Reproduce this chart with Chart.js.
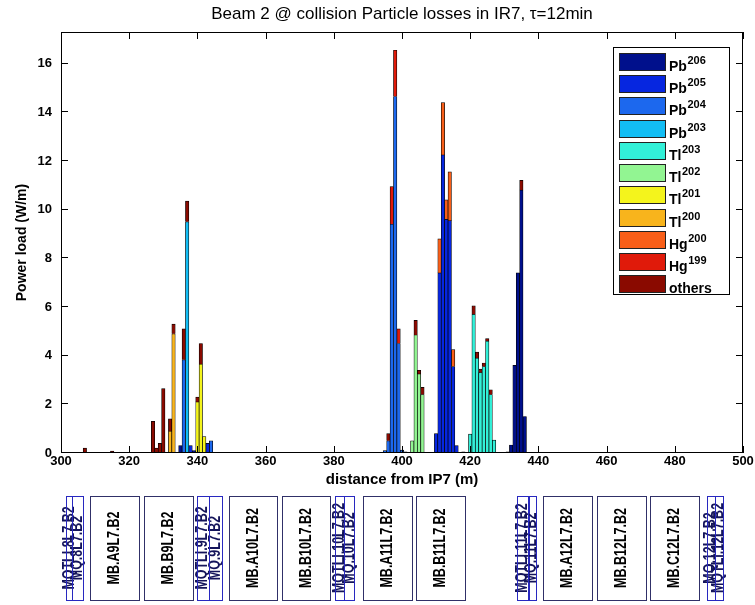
<!DOCTYPE html>
<html>
<head>
<meta charset="utf-8">
<title>Beam 2 @ collision Particle losses in IR7</title>
<script src="https://cdn.jsdelivr.net/npm/chart.js@4.4.1/dist/chart.umd.min.js"></script>
<style>
  html, body { margin: 0; padding: 0; background: #fff; }
  #chart { display: block; }
</style>
</head>
<body>
<canvas id="chart" width="755" height="605"></canvas>
<script>
// bin centres, distance from IP7 (m)
const positions = [
  307, 315, 327, 328, 329, 330, 332, 333, 335, 336, 337, 338, 339, 340, 341, 342, 343, 344,
  395, 396, 397, 398, 399, 400, 401, 403, 404, 405, 406,
  410, 411, 412, 413, 414, 415, 416, 418,
  420, 421, 422, 423, 424, 425, 426, 427,
  431, 432, 433, 434, 435, 436
];

// power load per species (W/m), one value per bin above
const pb206 = [
  0, 0, 0, 0, 0, 0, 0, 0, 0.3, 0, 0, 0, 0.1, 0, 0, 0, 0, 0,
  0, 0, 0, 0, 0, 0, 0, 0, 0, 0, 0,
  0, 0, 0, 0, 0, 0, 0, 0.05,
  0, 0, 0, 0, 0, 0, 0, 0,
  0.05, 0.33, 3.6, 7.4, 10.8, 1.5
];
const pb205 = [
  0, 0, 0, 0, 0, 0, 0, 0, 0, 0, 0, 0.3, 0, 0, 0, 0, 0.4, 0,
  0, 0, 0, 0, 0, 0, 0, 0, 0, 0, 0,
  0.8, 7.4, 12.25, 9.6, 9.55, 3.55, 0.3, 0,
  0, 0, 0, 0, 0, 0, 0, 0,
  0, 0, 0, 0, 0, 0
];
const pb204 = [
  0, 0, 0, 0, 0, 0, 0, 0, 0, 3.83, 0, 0, 0, 0, 0, 0, 0, 0.5,
  0.1, 0.5, 9.4, 14.65, 4.5, 0.12, 0, 0, 0, 0, 0,
  0, 0, 0, 0, 0, 0, 0, 0,
  0, 0, 0, 0, 0, 0, 0, 0,
  0, 0, 0, 0, 0, 0
];
const pb203 = [
  0, 0, 0, 0, 0, 0, 0, 0, 0, 0, 9.5, 0, 0, 0, 0, 0, 0, 0,
  0, 0, 0, 0, 0, 0, 0, 0, 0, 0, 0,
  0, 0, 0, 0, 0, 0, 0, 0,
  0, 0, 0, 0, 0, 0, 0, 0,
  0, 0, 0, 0, 0, 0
];
const tl203 = [
  0, 0, 0, 0, 0, 0, 0, 0, 0, 0, 0, 0, 0, 0, 0, 0, 0, 0,
  0, 0, 0, 0, 0, 0, 0, 0, 0, 0, 0,
  0, 0, 0, 0, 0, 0, 0, 0,
  0.78, 5.7, 3.9, 3.3, 3.55, 4.6, 2.4, 0.53,
  0, 0, 0, 0, 0, 0
];
const tl202 = [
  0, 0, 0, 0, 0, 0, 0, 0, 0, 0, 0, 0, 0, 0, 0, 0, 0, 0,
  0, 0, 0, 0, 0, 0, 0, 0.5, 4.85, 3.25, 2.4,
  0, 0, 0, 0, 0, 0, 0, 0,
  0, 0, 0, 0, 0, 0, 0, 0,
  0, 0, 0, 0, 0, 0
];
const tl201 = [
  0, 0, 0, 0, 0, 0, 0, 0, 0, 0, 0, 0, 0, 2.1, 3.65, 0.67, 0, 0,
  0, 0, 0, 0, 0, 0, 0, 0, 0, 0, 0,
  0, 0, 0, 0, 0, 0, 0, 0,
  0, 0, 0, 0, 0, 0, 0, 0,
  0, 0, 0, 0, 0, 0
];
const tl200 = [
  0, 0, 0, 0, 0, 0, 0.9, 4.9, 0, 0, 0, 0, 0, 0, 0, 0, 0, 0,
  0, 0, 0, 0, 0, 0, 0, 0, 0, 0, 0,
  0, 0, 0, 0, 0, 0, 0, 0,
  0, 0, 0, 0, 0, 0, 0, 0,
  0, 0, 0, 0, 0, 0
];
const hg200 = [
  0, 0, 0, 0, 0, 0, 0, 0, 0, 0, 0, 0, 0, 0, 0, 0, 0, 0,
  0, 0, 0, 0, 0, 0, 0, 0, 0, 0, 0,
  0, 1.4, 2.15, 0.8, 2.0, 0.7, 0, 0,
  0, 0, 0, 0, 0, 0, 0, 0,
  0, 0, 0, 0, 0, 0
];
const hg199 = [
  0, 0, 0, 0, 0, 0, 0, 0, 0, 0, 0, 0, 0, 0, 0, 0, 0, 0,
  0, 0, 1.55, 1.9, 0.6, 0, 0, 0, 0, 0, 0,
  0, 0, 0, 0, 0, 0, 0, 0,
  0, 0, 0, 0, 0, 0, 0, 0,
  0, 0, 0, 0, 0, 0
];
const others = [
  0.2, 0.08, 1.3, 0.2, 0.4, 2.65, 0.5, 0.4, 0, 1.27, 0.85, 0, 0, 0.2, 0.85, 0, 0, 0,
  0, 0.3, 0, 0, 0, 0, 0.05, 0, 0.6, 0.15, 0.3,
  0, 0, 0, 0, 0, 0, 0, 0,
  0, 0.35, 0.25, 0.15, 0.15, 0.1, 0.2, 0,
  0, 0, 0, 0, 0.4, 0
];

const speciesNames = ['Pb', 'Pb', 'Pb', 'Pb', 'Tl', 'Tl', 'Tl', 'Tl', 'Hg', 'Hg', 'others'];
const massNumbers = ['206', '205', '204', '203', '203', '202', '201', '200', '200', '199', ''];
const speciesColors = ['#00108c', '#0626e0', '#1c68ee', '#12bdf4', '#32f0d8', '#92f592',
  '#f4f41c', '#f8b41c', '#f85e18', '#e01a0a', '#8a0a00'];
const series = [pb206, pb205, pb204, pb203, tl203, tl202, tl201, tl200, hg200, hg199, others];

// magnet layout below the plot (m from IP7)
const magnetNames = ['MQTLI.8L7.B2', 'MQ.8L7.B2', 'MB.A9L7.B2', 'MB.B9L7.B2', 'MQTLI.9L7.B2', 'MQ.9L7.B2',
  'MB.A10L7.B2', 'MB.B10L7.B2', 'MQTLI.10L7.B2', 'MQ.10L7.B2', 'MB.A11L7.B2', 'MB.B11L7.B2',
  'MQTLI.11L7.B2', 'MQ.11L7.B2', 'MB.A12L7.B2', 'MB.B12L7.B2', 'MB.C12L7.B2', 'MQ.12L7.B2', 'MQTLI.12L7.B2'];
const magnetStart = [301.5, 303.3, 308.5, 324.3, 339.9, 343.4, 349.3, 364.8, 380.4, 383.1, 388.6, 404.1,
  433.6, 437.0, 441.3, 457.2, 472.7, 489.4, 491.8];
const magnetEnd = [303.3, 306.5, 322.9, 338.7, 343.4, 347.2, 363.4, 379.0, 383.1, 385.9, 402.9, 418.5,
  437.0, 439.2, 455.7, 471.6, 487.1, 491.8, 494.1];

const FONT = '"Liberation Sans", Arial, sans-serif';
Chart.defaults.font.family = FONT;
Chart.defaults.color = '#000';

// frame round the plot with inward ticks on all four sides
const axesBox = {
  id: 'axesBox',
  afterDatasetsDraw(chart) {
    const { ctx, chartArea: a, scales: { x, y } } = chart;
    const len = 7;
    ctx.save();
    ctx.strokeStyle = '#000';
    ctx.lineWidth = 1;
    ctx.strokeRect(a.left + 0.5, a.top + 0.5, a.right - a.left - 1, a.bottom - a.top - 1);
    ctx.beginPath();
    x.ticks.forEach((t, i) => {
      const px = Math.round(x.getPixelForTick(i)) + 0.5;
      ctx.moveTo(px, a.bottom); ctx.lineTo(px, a.bottom - len);
      ctx.moveTo(px, a.top); ctx.lineTo(px, a.top + len);
    });
    y.ticks.forEach((t, i) => {
      const py = Math.round(y.getPixelForTick(i)) - 0.5;
      ctx.moveTo(a.left, py); ctx.lineTo(a.left + len, py);
      ctx.moveTo(a.right, py); ctx.lineTo(a.right - len, py);
    });
    ctx.stroke();
    ctx.restore();
  }
};

// legend box with superscript mass numbers
const speciesLegend = {
  id: 'speciesLegend',
  afterDraw(chart) {
    const { ctx } = chart;
    const left = 613, top = 47, width = 116, height = 247;
    ctx.save();
    ctx.fillStyle = '#fff';
    ctx.fillRect(left, top, width, height);
    ctx.strokeStyle = '#000';
    ctx.lineWidth = 1;
    ctx.strokeRect(left + 0.5, top + 0.5, width, height);
    chart.data.datasets.forEach((ds, i) => {
      const sy = Math.round(top + 5.7 + i * 22.27);
      ctx.fillStyle = ds.backgroundColor;
      ctx.fillRect(left + 6, sy, 46, 17);
      ctx.strokeStyle = '#222';
      ctx.strokeRect(left + 6.5, sy + 0.5, 46, 17);
      ctx.fillStyle = '#000';
      ctx.textAlign = 'left';
      ctx.textBaseline = 'alphabetic';
      ctx.font = 'bold 14px ' + FONT;
      ctx.fillText(speciesNames[i], left + 56, sy + 17.5);
      const w = ctx.measureText(speciesNames[i]).width;
      ctx.font = 'bold 11px ' + FONT;
      ctx.fillText(massNumbers[i], left + 56 + w + 0.5, sy + 11.3);
    });
    ctx.restore();
  }
};

// magnet boxes placed on the same distance scale
const magnetLayout = {
  id: 'magnetLayout',
  afterDraw(chart) {
    const { ctx, scales: { x } } = chart;
    const top = 496, bottom = 600;
    ctx.save();
    magnetNames.forEach((name, i) => {
      const x0 = x.getPixelForValue(magnetStart[i]);
      const x1 = x.getPixelForValue(magnetEnd[i]);
      const quad = name.startsWith('MQ');
      ctx.save();
      ctx.translate((x0 + x1) / 2, (top + bottom) / 2);
      ctx.rotate(-Math.PI / 2);
      ctx.scale(0.78, 1);
      ctx.font = 'bold 16px ' + FONT;
      ctx.textAlign = 'center';
      ctx.textBaseline = 'middle';
      ctx.fillStyle = quad ? '#14145a' : '#000';
      ctx.fillText(name, 0, 0);
      ctx.restore();
      ctx.strokeStyle = quad ? '#2828c0' : '#303068';
      ctx.lineWidth = 1;
      ctx.strokeRect(Math.round(x0) + 0.5, top + 0.5, Math.round(x1 - x0), bottom - top);
    });
    ctx.restore();
  }
};

const datasets = series.map((values, i) => ({
  label: speciesNames[i] + massNumbers[i],
  data: values.map(v => v || null),
  backgroundColor: speciesColors[i],
  borderColor: '#000',
  borderWidth: 0.7,
  barPercentage: 1,
  categoryPercentage: 1
}));

new Chart(document.getElementById('chart'), {
  type: 'bar',
  data: { labels: positions, datasets: datasets },
  options: {
    responsive: false,
    animation: false,
    layout: { padding: { left: 0, right: 12, top: 0, bottom: 115 } },
    plugins: {
      legend: { display: false },
      tooltip: { enabled: false },
      title: {
        display: true,
        fullSize: false,
        text: 'Beam 2 @ collision Particle losses in IR7, τ=12min',
        color: '#000',
        font: { size: 17, weight: 'normal' },
        padding: { top: 4, bottom: 7.6 }
      }
    },
    scales: {
      x: {
        type: 'linear',
        stacked: true,
        offset: false,
        min: 300,
        max: 500,
        grid: { display: false, drawTicks: false, tickLength: 0 },
        border: { display: false },
        ticks: { stepSize: 20, padding: 1, maxRotation: 0, font: { size: 13, weight: 'bold' }, color: '#000' },
        title: {
          display: true,
          text: 'distance from IP7 (m)',
          color: '#000',
          font: { size: 15, weight: 'bold' },
          padding: { top: 0, bottom: 1 }
        },
        afterFit: s => { s.height = 37; }
      },
      y: {
        stacked: true,
        min: 0,
        max: 17.3,
        grid: { display: false, drawTicks: false, tickLength: 0 },
        border: { display: false },
        ticks: { stepSize: 2, includeBounds: false, padding: 9, font: { size: 13, weight: 'bold' }, color: '#000' },
        title: {
          display: true,
          text: 'Power load (W/m)',
          color: '#000',
          font: { size: 14, weight: 'bold' },
          padding: { top: 14, bottom: 0 }
        },
        afterFit: s => { s.width = 61; }
      }
    }
  },
  plugins: [axesBox, speciesLegend, magnetLayout]
});
</script>
</body>
</html>
